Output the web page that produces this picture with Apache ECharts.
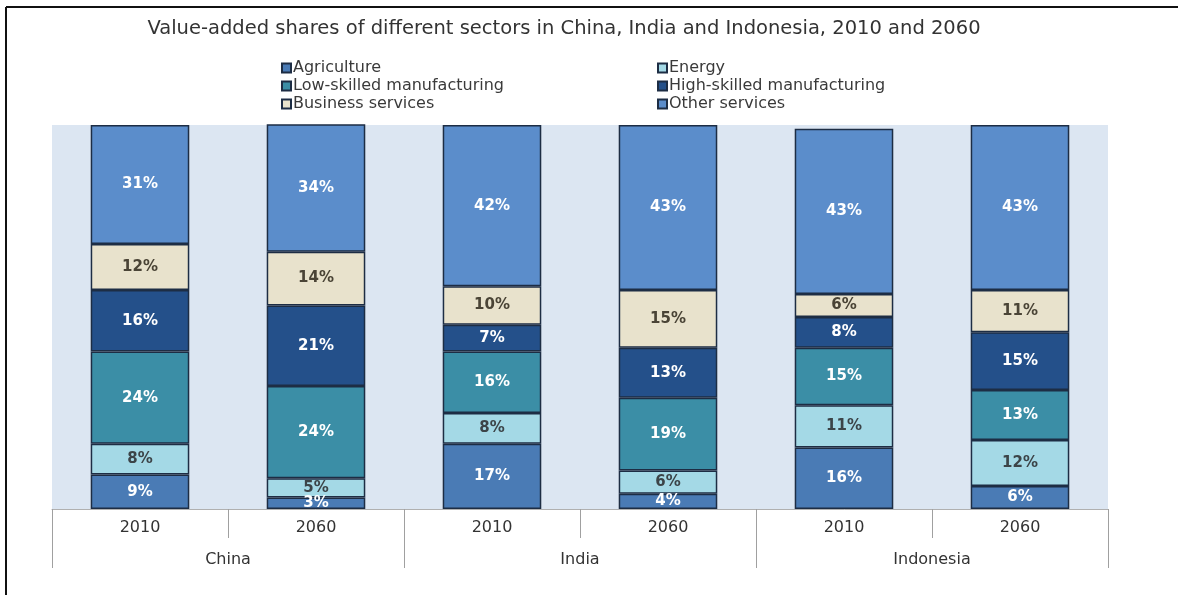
<!DOCTYPE html>
<html>
<head>
<meta charset="utf-8">
<script src="https://cdn.jsdelivr.net/npm/echarts@6/dist/echarts.min.js"></script>
<style>
html,body{margin:0;padding:0;background:#fff;}
#chart{width:1182px;height:595px;}
</style>
</head>
<body>
<div id="chart"></div>
<script>
const titleText = 'Value-added shares of different sectors in China, India and Indonesia, 2010 and 2060';
const years = ['2010', '2060', '2010', '2060', '2010', '2060'];
const countries = ['China', 'India', 'Indonesia'];
const seriesNames = ['Agriculture', 'Energy', 'Low-skilled manufacturing', 'High-skilled manufacturing', 'Business services', 'Other services'];
const agriculture = [9, 3, 17, 4, 16, 6];
const energy = [8, 5, 8, 6, 11, 12];
const lowSkilled = [24, 24, 16, 19, 15, 13];
const highSkilled = [16, 21, 7, 13, 8, 15];
const business = [12, 14, 10, 15, 6, 11];
const otherServices = [31, 34, 42, 43, 43, 43];

const values = [agriculture, energy, lowSkilled, highSkilled, business, otherServices];
const colors = ['#4a7bb5', '#a4d9e6', '#3b8ea6', '#24508a', '#e8e2cc', '#5b8dcb'];
const labelColors = ['#ffffff', '#3c4448', '#ffffff', '#ffffff', '#4a4436', '#ffffff'];

const chart = echarts.init(document.getElementById('chart'), null, {renderer: 'canvas'});

const series = seriesNames.map((name, i) => ({
  name: name,
  type: 'bar',
  stack: 'total',
  xAxisIndex: 0,
  barCategoryGap: '44%',
  data: values[i],
  itemStyle: {color: colors[i], borderColor: '#1d2d44', borderWidth: 1.5},
  label: {
    show: true,
    position: 'inside',
    formatter: '{c}%',
    color: labelColors[i],
    fontFamily: 'DejaVu Sans',
    fontWeight: 'bold',
    fontSize: 15
  },
  emphasis: {disabled: true}
}));

const legendCommon = {
  orient: 'vertical',
  icon: 'rect',
  itemWidth: 9,
  itemHeight: 9,
  itemGap: 2,
  padding: 0,
  selectedMode: false,
  textStyle: {fontFamily: 'DejaVu Sans', fontSize: 16, color: '#3a3a3a', lineHeight: 16, padding: [0, 0, 0, -3]}
};

chart.setOption({
  backgroundColor: '#ffffff',
  animation: false,
  title: {
    text: titleText,
    left: 564,
    textAlign: 'center',
    top: 19,
    padding: 0,
    textStyle: {fontFamily: 'DejaVu Sans', fontSize: 19.5, fontWeight: 'normal', color: '#333333'}
  },
  legend: [
    Object.assign({}, legendCommon, {left: 281, top: 60, data: [seriesNames[0], seriesNames[2], seriesNames[4]]}),
    Object.assign({}, legendCommon, {left: 657, top: 60, data: [seriesNames[1], seriesNames[3], seriesNames[5]]})
  ],
  grid: {
    left: 52, right: 74, top: 125, bottom: 86,
    show: true, backgroundColor: '#dce6f2', borderWidth: 0
  },
  xAxis: [
    {
      type: 'category',
      data: years,
      position: 'bottom',
      axisLine: {show: true, lineStyle: {color: '#b0b0b0', width: 1}},
      axisTick: {show: true, length: 29, lineStyle: {color: '#a0a0a0'}},
      axisLabel: {margin: 11, fontFamily: 'DejaVu Sans', fontSize: 16, color: '#333333'}
    },
    {
      type: 'category',
      data: countries,
      position: 'bottom',
      axisLine: {show: false},
      axisTick: {show: true, length: 59, lineStyle: {color: '#a0a0a0'}},
      axisLabel: {margin: 43, fontFamily: 'DejaVu Sans', fontSize: 16, color: '#333333'}
    }
  ],
  yAxis: {
    type: 'value', min: 0, max: 100, show: false,
    splitLine: {show: false}
  },
  graphic: [
    {type: 'line', shape: {x1: 6, y1: 7, x2: 1178, y2: 7}, style: {stroke: '#111', lineWidth: 2}, silent: true},
    {type: 'line', shape: {x1: 6, y1: 7, x2: 6, y2: 595}, style: {stroke: '#111', lineWidth: 2}, silent: true}
  ],
  series: series
});
</script>
</body>
</html>
